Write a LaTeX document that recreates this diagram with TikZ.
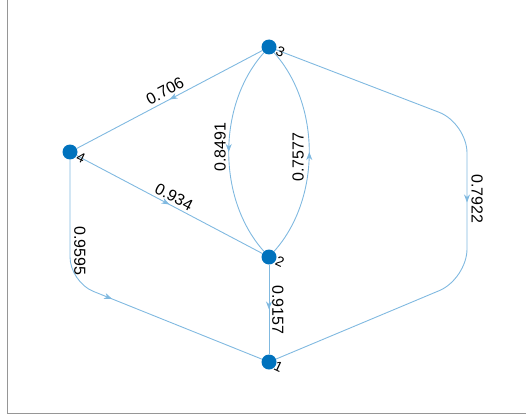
\documentclass[tikz,border=0pt]{standalone}
\usepackage{fontspec}
\setmainfont{Liberation Sans}
\usetikzlibrary{arrows.meta,decorations.markings}
\definecolor{nodeblue}{RGB}{0,114,189}
\definecolor{edgeblue}{RGB}{128,185,224}
\definecolor{axisgray}{RGB}{150,150,150}
\tikzset{
  vertex/.style={circle, fill=nodeblue, draw=none, minimum size=15pt, inner sep=0pt},
  vlabel/.style={font=\fontsize{14}{16}\selectfont, inner sep=0pt, rotate=-25},
  edge/.style={draw=edgeblue, line width=0.9pt,
    postaction={decorate, decoration={markings,
      mark=at position 0.5 with {\arrow{Stealth[length=8pt,width=6pt,inset=2.5pt,fill=edgeblue]}}}}},
  elabel/.style={font=\fontsize{16}{18}\selectfont, inner sep=0pt, text=black},
}
\begin{document}
\begin{tikzpicture}[x=1pt,y=-1pt]
\useasboundingbox (0,0) rectangle (526,417);

% axes lines
\draw[axisgray, line width=1pt] (7,0) -- (7,413.3) -- (526,413.3);

% vertices
\node[vertex] (n3) at (269,47) {};
\node[vertex] (n4) at (70,152) {};
\node[vertex] (n2) at (269,257) {};
\node[vertex] (n1) at (269,362) {};

% bend points of the outer edges
\coordinate (c31a) at (467,123);
\coordinate (c31b) at (467,279);
\coordinate (c41) at (70,282);

% edges
\draw[edge] (n3) -- (n4);
\draw[edge] (n4) -- (n2);
\draw[edge] (n3) .. controls (217,105) and (217,199) .. (n2);
\draw[edge] (n2) .. controls (321,199) and (321,105) .. (n3);
\draw[edge] (n2) -- (n1);
\draw[edge, rounded corners=30pt] (n3) -- (c31a) -- (c31b) -- (n1);
\draw[edge, rounded corners=25pt] (n4) -- (c41) -- (n1);

% vertex labels
\node[vlabel] (l3) at (280.5,51.5) {3};
\node[vlabel] (l4) at (81,157.5) {4};
\node[vlabel] (l2) at (280,261.5) {2};
\node[vlabel] (l1) at (278.5,367) {1};

% edge weights
\node[elabel, rotate=27.8] (w34) at (165,91) {0.706};
\node[elabel, rotate=-27.8] (w42) at (174,197) {0.934};
\node[elabel, rotate=90] (w32) at (220,147) {0.8491};
\node[elabel, rotate=90] (w23) at (298,157) {0.7577};
\node[elabel, rotate=-90] (w31) at (477,199) {0.7922};
\node[elabel, rotate=-90] (w41) at (80,251) {0.9595};
\node[elabel, rotate=-90] (w21) at (278,310) {0.9157};
\end{tikzpicture}
\end{document}
